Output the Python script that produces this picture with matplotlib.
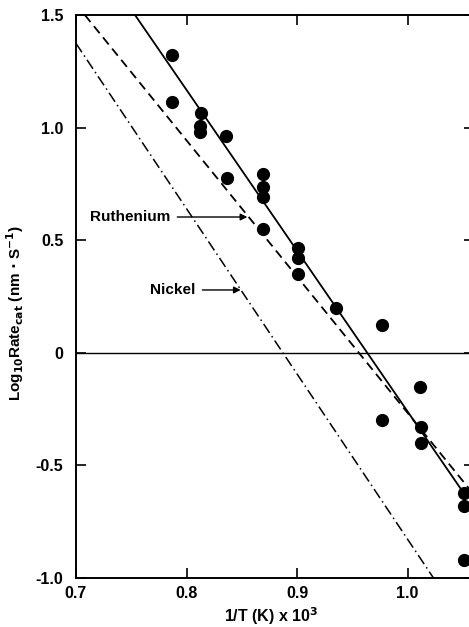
import numpy as np
import matplotlib
matplotlib.use("Agg")
import matplotlib.pyplot as plt

plt.rcParams['font.family'] = ['Liberation Sans', 'DejaVu Sans']
plt.rcParams['font.weight'] = 'bold'

# measured points
inv_t = [0.787, 0.787, 0.813, 0.812, 0.812, 0.836, 0.837,
         0.869, 0.869, 0.869, 0.869, 0.901, 0.901, 0.901, 0.935,
         0.977, 0.977, 1.011, 1.012, 1.012, 1.051, 1.051, 1.051]
log_rate = [1.322, 1.112, 1.063, 1.007, 0.982, 0.964, 0.778,
            0.793, 0.738, 0.690, 0.550, 0.464, 0.422, 0.349, 0.200,
            0.124, -0.298, -0.153, -0.328, -0.399, -0.621, -0.679, -0.920]

# fitted lines (end points)
solid_x = [0.7534, 1.0475]
solid_y = [1.5, -0.60]
ru_x = [0.708, 1.06]
ru_y = [1.5, -0.63]
ni_x = [0.70, 1.0234]
ni_y = [1.374, -1.0]

fig = plt.figure(figsize=(4.69, 6.27), dpi=100)
ax = fig.add_axes([0.162, 0.0781, 0.8486, 0.898])

ax.plot(solid_x, solid_y, '-', color='black', lw=1.3)
ax.plot(ru_x, ru_y, color='black', lw=1.3, ls=(0, (5, 3)))
ax.plot(ni_x, ni_y, color='black', lw=1.1, ls=(0, (7, 2.5, 1, 2.5)))
ax.axhline(0, color='black', lw=1.0)
ax.plot(inv_t, log_rate, 'o', color='black', ms=8.5, clip_on=False)

ax.annotate('Ruthenium', xy=(0.855, 0.603), xytext=(0.7127, 0.603),
            fontsize=11, fontweight='bold', va='center', ha='left',
            arrowprops=dict(arrowstyle='-|>', color='black', lw=1.0,
                            shrinkA=3, shrinkB=0, mutation_scale=10))
ax.annotate('Nickel', xy=(0.849, 0.279), xytext=(0.767, 0.279),
            fontsize=11, fontweight='bold', va='center', ha='left',
            arrowprops=dict(arrowstyle='-|>', color='black', lw=1.0,
                            shrinkA=3, shrinkB=0, mutation_scale=10))

ax.set_xlim(0.7, 1.06)
ax.set_ylim(-1.0, 1.5)
ax.set_xticks([0.7, 0.8, 0.9, 1.0])
ax.set_xticklabels(['0.7', '0.8', '0.9', '1.0'])
ax.set_yticks([-1.0, -0.5, 0, 0.5, 1.0, 1.5])
ax.set_yticklabels(['-1.0', '-0.5', '0', '0.5', '1.0', '1.5'])
ax.tick_params(direction='in', length=7, width=1.2, top=True, right=True,
               labelsize=11.5)
ax.tick_params(axis='x', pad=6)
ax.tick_params(axis='y', pad=9)
for lab in ax.get_xticklabels() + ax.get_yticklabels():
    lab.set_fontweight('bold')
for sp in ax.spines.values():
    sp.set_linewidth(1.4)

ax.set_xlabel(r'1/T (K) x 10$^{\mathbf{3}}$', fontsize=11.5, fontweight='bold')
ax.set_ylabel(r'Log$_{\mathbf{10}}$Rate$_{\mathbf{cat}}$ (nm $\bullet$ S$^{\mathbf{-1}}$)',
              fontsize=11, fontweight='bold')
ax.xaxis.set_label_coords(0.49, -0.049)
ax.yaxis.set_label_coords(-0.125, 0.471)

fig.savefig('out.png', dpi=100)
